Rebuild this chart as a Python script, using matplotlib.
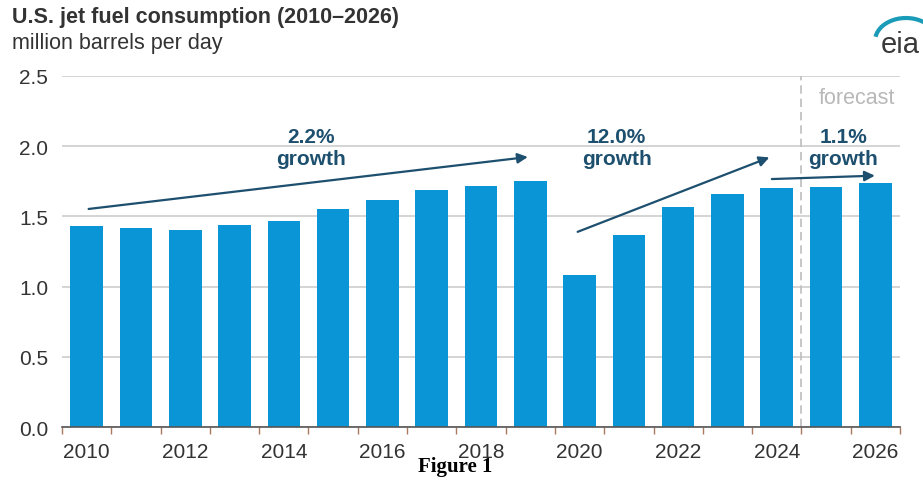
import matplotlib.pyplot as plt
from matplotlib.patches import Arc

years = list(range(2010, 2027))
consumption = [1.43, 1.42, 1.40, 1.44, 1.47, 1.55, 1.62, 1.69, 1.72, 1.75,
               1.08, 1.37, 1.57, 1.66, 1.70, 1.71, 1.74]
tick_years = list(range(2010, 2027, 2))
growth_labels = ["2.2%\ngrowth", "12.0%\ngrowth", "1.1%\ngrowth"]

plt.rcParams["font.family"] = ["Liberation Sans", "DejaVu Sans"]

bar_color = "#0a96d6"
note_color = "#1d4f6e"

fig = plt.figure(figsize=(9.23, 4.81), dpi=100)
ax = fig.add_axes([62 / 923, 1 - 428 / 481, 838 / 923, 351 / 481])

ax.bar(years, consumption, width=0.66, color=bar_color, zorder=2)

ax.set_xlim(2009.5, 2026.5)
ax.set_ylim(0, 2.5)
ax.set_yticks([0, 0.5, 1.0, 1.5, 2.0, 2.5])
ax.set_yticklabels(["0.0", "0.5", "1.0", "1.5", "2.0", "2.5"])
ax.yaxis.grid(True, color="#d4d4d4", lw=1.4, zorder=0)
ax.set_axisbelow(True)
ax.set_xticks(tick_years)
ax.set_xticks([y - 0.5 for y in years] + [2026.5], minor=True)
ax.tick_params(axis="x", which="major", length=0, pad=11, labelsize=15, colors="#333333")
ax.tick_params(axis="x", which="minor", length=5, color="#a87a60", width=1)
ax.tick_params(axis="y", length=0, pad=10, labelsize=15, colors="#333333")

for side in ["top", "right", "left"]:
    ax.spines[side].set_visible(False)
ax.spines["bottom"].set_color("#555555")
ax.spines["bottom"].set_linewidth(1.2)

# forecast divider
ax.axvline(2024.5, color="#bdbdbd", lw=1.2, ls=(0, (5, 3)), zorder=1)
ax.text(2025.62, 2.35, "forecast", color="#b8b8b8", fontsize=15.5, ha="center",
        va="center")

# growth arrows and labels
arrows = [((2010.04, 1.553), (2018.95, 1.923)),
          ((2019.96, 1.39), (2023.85, 1.92)),
          ((2023.9, 1.766), (2025.99, 1.79))]
label_pos = [(2014.55, 1.99), (2020.75, 1.99), (2025.35, 1.99)]
for (start, end), text, pos in zip(arrows, growth_labels, label_pos):
    ax.annotate("", xy=end, xytext=start,
                arrowprops=dict(arrowstyle="-|>", color=note_color, lw=1.6,
                                mutation_scale=15, shrinkA=0, shrinkB=0),
                zorder=4)
    ax.text(pos[0], pos[1], text, color=note_color, fontsize=15, fontweight="bold",
            ha="center", va="center", linespacing=1.15, zorder=4)

fig.text(12 / 923, 1 - 18 / 481, "U.S. jet fuel consumption (2010\u20132026)",
         fontsize=15.5, fontweight="bold", color="#333333", va="center")
fig.text(12 / 923, 1 - 44 / 481, "million barrels per day",
         fontsize=15.5, color="#333333", va="center")

# eia mark
fig.text(920 / 923, 1 - 45 / 481, "eia", fontsize=21, color="#3a3a3a",
         ha="right", va="center")
fig.add_artist(Arc((906 / 923, 1 - 42 / 481), 62 / 923, 46 / 481, theta1=55, theta2=165,
                   transform=fig.transFigure, color="#1a9bb8", lw=3))

fig.text(455 / 923, 1 - 467 / 481, "Figure 1", fontsize=15, fontweight="bold",
         family="Liberation Serif", ha="center", va="center")

fig.savefig("out.png", dpi=100)
